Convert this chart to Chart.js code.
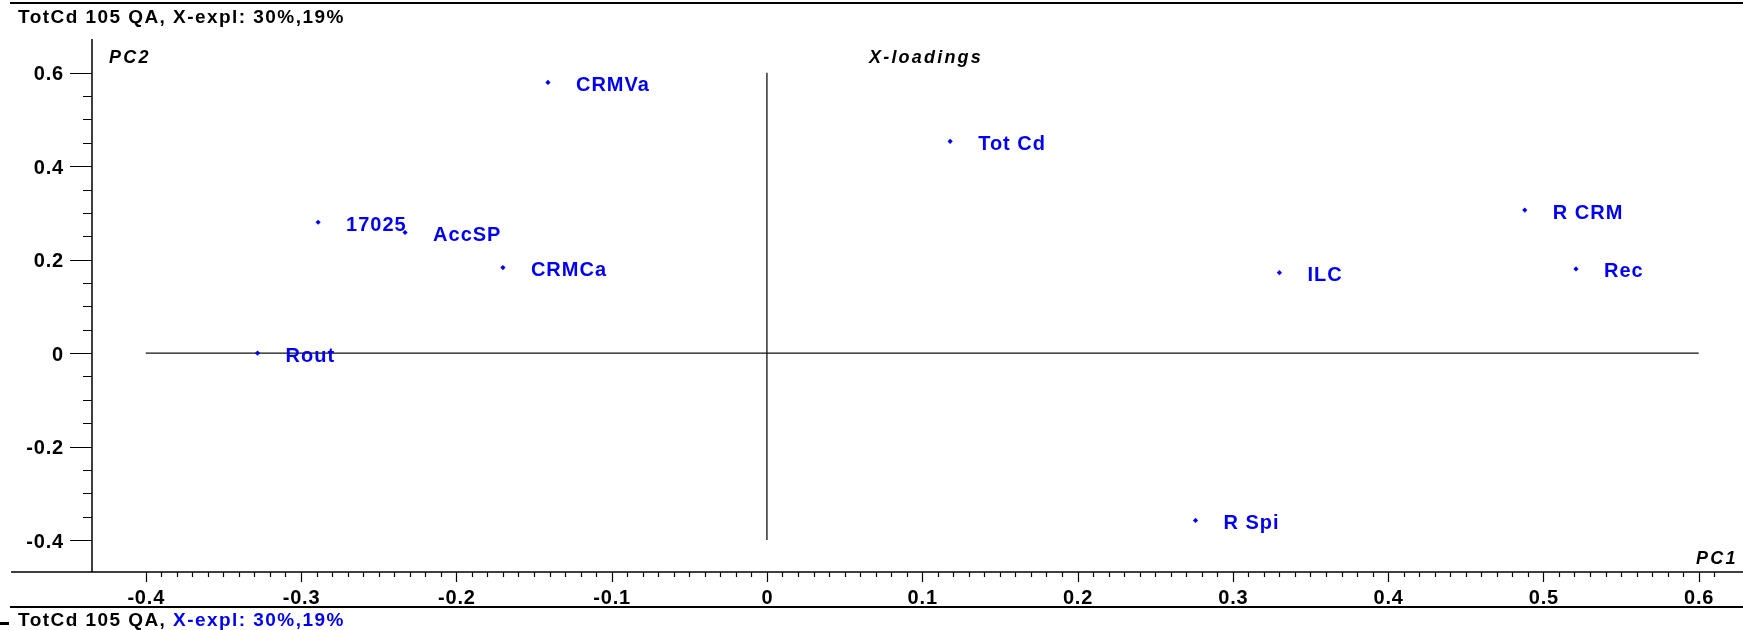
<!DOCTYPE html>
<html>
<head>
<meta charset="utf-8">
<script src="https://cdn.jsdelivr.net/npm/chart.js@4/dist/chart.umd.min.js"></script>
<style>
  html, body { margin: 0; padding: 0; background: #fff; overflow: hidden; }
  #wrap { position: relative; width: 1743px; height: 630px; }
</style>
</head>
<body>
<div id="wrap"><canvas id="c" width="1743" height="630"></canvas></div>
<script>
// PCA X-loadings: variable names and their PC1 / PC2 loadings
const variables = ['CRMVa', 'Tot Cd', '17025', 'AccSP', 'CRMCa', 'Rout', 'R CRM', 'Rec', 'ILC', 'R Spi'];
const pc1 = [-0.141, 0.118, -0.289, -0.233, -0.170, -0.328, 0.488, 0.521, 0.330, 0.276];
const pc2 = [0.579, 0.453, 0.280, 0.258, 0.183, 0.000, 0.306, 0.180, 0.172, -0.358];

// axis tick values and labels
const xTicks = [-0.4, -0.3, -0.2, -0.1, 0, 0.1, 0.2, 0.3, 0.4, 0.5, 0.6];
const xTickLabels = ['-0.4', '-0.3', '-0.2', '-0.1', '0', '0.1', '0.2', '0.3', '0.4', '0.5', '0.6'];
const yTicks = [-0.4, -0.2, 0, 0.2, 0.4, 0.6];
const yTickLabels = ['-0.4', '-0.2', '0', '0.2', '0.4', '0.6'];

// texts
const titleText = 'TotCd 105 QA, X-expl: 30%,19%';
const footerPlain = 'TotCd 105 QA, ';
const footerBlue = 'X-expl: 30%,19%';
const plotName = 'X-loadings';
const xName = 'PC1';
const yName = 'PC2';

const FONT = '"Liberation Sans", Arial, Helvetica, sans-serif';
const BLUE = '#0000f2';

const frame = {
  id: 'pcaFrame',
  beforeDatasetsDraw(chart) {
    const ctx = chart.ctx;
    const xs = chart.scales.x, ys = chart.scales.y;
    const a = chart.chartArea;
    ctx.save();

    // top and bottom rules
    ctx.strokeStyle = '#000';
    ctx.lineWidth = 2;
    ctx.beginPath();
    ctx.moveTo(10, 3); ctx.lineTo(1743, 3);
    ctx.moveTo(10, 607); ctx.lineTo(1743, 607);
    ctx.stroke();

    // axis lines
    ctx.lineWidth = 1.5;
    ctx.beginPath();
    ctx.moveTo(11, a.bottom); ctx.lineTo(1743, a.bottom);
    ctx.moveTo(a.left, a.top); ctx.lineTo(a.left, a.bottom);
    ctx.stroke();

    // x ticks: major every 0.1, minor every 0.01
    ctx.lineWidth = 1.2;
    ctx.beginPath();
    for (let k = -40; k <= 61; k++) {
      const px = Math.round(xs.getPixelForValue(k / 100)) + 0.5;
      const len = (k % 10 === 0) ? 10 : 5;
      ctx.moveTo(px, a.bottom); ctx.lineTo(px, a.bottom + len);
    }
    // y ticks: major every 0.2, minor every 0.05
    for (let k = -8; k <= 12; k++) {
      const py = Math.round(ys.getPixelForValue(k / 20)) + 0.5;
      const len = (k % 4 === 0) ? 22 : 9;
      ctx.moveTo(a.left - len, py); ctx.lineTo(a.left, py);
    }
    ctx.stroke();

    // zero reference lines
    ctx.strokeStyle = '#111';
    ctx.lineWidth = 1.3;
    ctx.beginPath();
    const y0 = ys.getPixelForValue(0), x0 = xs.getPixelForValue(0);
    ctx.moveTo(xs.getPixelForValue(-0.4), y0); ctx.lineTo(xs.getPixelForValue(0.6), y0);
    ctx.moveTo(x0, ys.getPixelForValue(0.6)); ctx.lineTo(x0, ys.getPixelForValue(-0.4));
    ctx.stroke();

    // tick labels
    ctx.fillStyle = '#000';
    ctx.font = 'bold 20px ' + FONT;
    ctx.letterSpacing = '0.8px';
    ctx.textBaseline = 'alphabetic';
    ctx.textAlign = 'center';
    xTicks.forEach((v, i) => ctx.fillText(xTickLabels[i], xs.getPixelForValue(v) + 0.5, 604));
    ctx.textAlign = 'right';
    yTicks.forEach((v, i) => ctx.fillText(yTickLabels[i], 64, ys.getPixelForValue(v) + 7.5));

    // axis names
    ctx.font = 'italic bold 18px ' + FONT;
    ctx.letterSpacing = '2.2px';
    ctx.textAlign = 'left';
    ctx.fillText(yName, 109, 63);
    ctx.fillText(plotName, 869, 63);
    ctx.fillText(xName, 1696, 564);

    // title and footer
    ctx.font = 'bold 19px ' + FONT;
    ctx.letterSpacing = '1.45px';
    ctx.fillText(titleText, 18, 23);
    ctx.fillText(footerPlain, 18, 626);
    const w = ctx.measureText(footerPlain).width;
    ctx.fillStyle = BLUE;
    ctx.fillText(footerBlue, 18 + w, 626);
    ctx.fillStyle = '#000';
    ctx.fillRect(0, 622, 9, 3);

    ctx.restore();
  },
  afterDatasetsDraw(chart) {
    const ctx = chart.ctx;
    const meta = chart.getDatasetMeta(0);
    ctx.save();
    ctx.fillStyle = BLUE;
    ctx.font = 'bold 20px ' + FONT;
    ctx.letterSpacing = '1px';
    ctx.textAlign = 'left';
    ctx.textBaseline = 'alphabetic';
    meta.data.forEach((pt, i) => {
      ctx.fillText(variables[i], pt.x + 28, pt.y + 8.5);
    });
    ctx.restore();
  }
};

new Chart(document.getElementById('c'), {
  type: 'scatter',
  data: {
    datasets: [{
      label: plotName,
      data: pc1.map((v, i) => ({ x: v, y: pc2[i] })),
      pointStyle: 'rectRot',
      pointRadius: 2.6,
      pointBackgroundColor: BLUE,
      pointBorderWidth: 0,
      pointHoverRadius: 2.6
    }]
  },
  options: {
    responsive: false,
    animation: false,
    devicePixelRatio: 1,
    layout: { padding: { left: 92, right: 3, top: 39, bottom: 58 } },
    scales: {
      x: { type: 'linear', display: false, min: -0.4346, max: 0.6266 },
      y: { type: 'linear', display: false, min: -0.4683, max: 0.672 }
    },
    plugins: { legend: { display: false }, tooltip: { enabled: false } }
  },
  plugins: [frame]
});
</script>
</body>
</html>
